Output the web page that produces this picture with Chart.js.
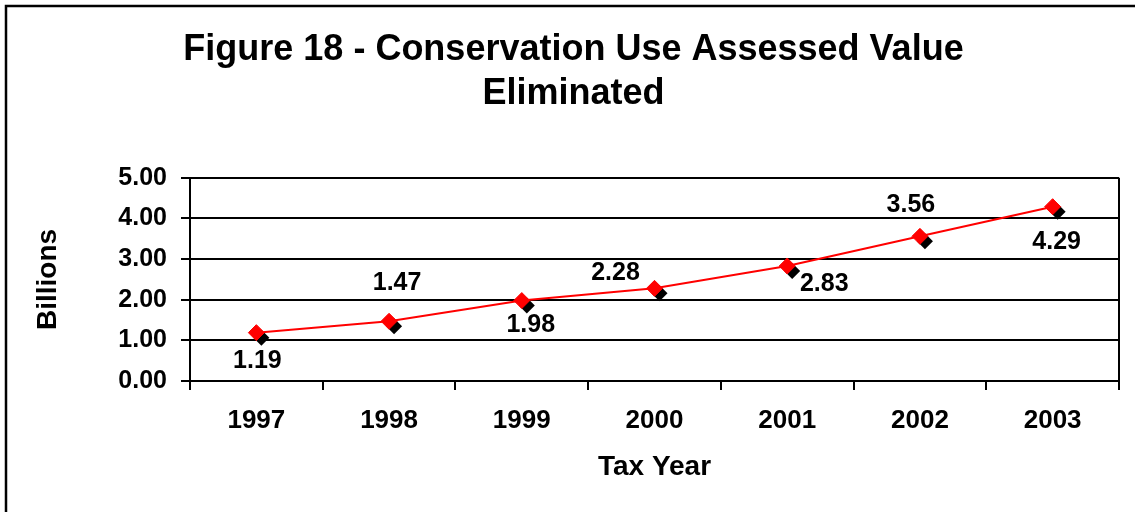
<!DOCTYPE html>
<html>
<head>
<meta charset="utf-8">
<script src="https://cdn.jsdelivr.net/npm/chart.js@4"></script>
<style>
  html, body { margin: 0; padding: 0; background: #fff; }
  #chart-wrap { width: 1135px; height: 512px; }
</style>
</head>
<body>
<div id="chart-wrap"><canvas id="value-chart" width="1135" height="512"></canvas></div>
<script>
const taxYears = ["1997", "1998", "1999", "2000", "2001", "2002", "2003"];
const billionsEliminated = [1.19, 1.47, 1.98, 2.28, 2.83, 3.56, 4.29];
const titleLines = ["Figure 18 - Conservation Use Assessed Value", "Eliminated"];

// where each value label sits relative to its marker (like the original)
const labelOffsets = [[1, 28], [8, -38], [9, 25], [-39, -15], [37, 18], [-9, -31], [4, 35]];

const fontFamily = "'Liberation Sans', Arial, sans-serif";

function diamond(ctx, x, y, r) {
  ctx.beginPath();
  ctx.moveTo(x, y - r);
  ctx.lineTo(x + r, y);
  ctx.lineTo(x, y + r);
  ctx.lineTo(x - r, y);
  ctx.closePath();
  ctx.fill();
}

// black drop shadow under the red diamonds
const markerShadow = {
  id: "markerShadow",
  beforeDatasetsDraw(chart) {
    const ctx = chart.ctx;
    ctx.save();
    ctx.fillStyle = "#000";
    chart.getDatasetMeta(0).data.forEach((pt) => diamond(ctx, pt.x + 5, pt.y + 5, 8));
    ctx.restore();
  },
};

const valueLabels = {
  id: "valueLabels",
  afterDatasetsDraw(chart) {
    const ctx = chart.ctx;
    ctx.save();
    ctx.fillStyle = "#000";
    ctx.font = "bold 25px " + fontFamily;
    ctx.textAlign = "center";
    ctx.textBaseline = "middle";
    chart.getDatasetMeta(0).data.forEach((pt, i) => {
      const off = labelOffsets[i];
      ctx.fillText(billionsEliminated[i].toFixed(2), pt.x + off[0], pt.y + off[1]);
    });
    ctx.restore();
  },
};

// plot area right edge and the outer frame
const frames = {
  id: "frames",
  afterDraw(chart) {
    const ctx = chart.ctx;
    const a = chart.chartArea;
    ctx.save();
    ctx.strokeStyle = "#000";
    ctx.lineWidth = 2;
    ctx.beginPath();
    ctx.moveTo(a.right, a.top);
    ctx.lineTo(a.right, a.bottom);
    ctx.stroke();
    ctx.lineWidth = 2.5;
    ctx.strokeRect(6, 6, 1300, 700);
    ctx.restore();
  },
};

new Chart(document.querySelector("#value-chart").getContext("2d"), {
  type: "line",
  data: {
    labels: taxYears,
    datasets: [
      {
        label: "Billions",
        data: billionsEliminated,
        borderColor: "#ff0000",
        borderWidth: 2,
        backgroundColor: "#ff0000",
        pointStyle: "rectRot",
        pointRadius: 8,
        pointHoverRadius: 8,
        pointBorderWidth: 1,
        pointBackgroundColor: "#ff0000",
        pointBorderColor: "#ff0000",
        tension: 0,
      },
    ],
  },
  options: {
    responsive: false,
    devicePixelRatio: 1,
    animation: false,
    events: [],
    layout: { padding: { left: 28, right: 16, top: 0, bottom: 0 } },
    plugins: {
      legend: { display: false },
      tooltip: { enabled: false },
      title: {
        display: true,
        text: titleLines,
        color: "#000",
        font: { family: fontFamily, size: 36, weight: "bold", lineHeight: 1.22 },
        padding: { top: 28, bottom: 62 },
      },
    },
    scales: {
      x: {
        offset: true,
        grid: { offset: true, drawOnChartArea: false, drawTicks: true, tickLength: 9, color: "#000", lineWidth: 2 },
        border: { display: true, color: "#000", width: 2 },
        ticks: { color: "#000", font: { family: fontFamily, size: 26, weight: "bold" }, padding: 15, maxRotation: 0 },
        title: {
          display: true,
          text: "Tax Year",
          color: "#000",
          font: { family: fontFamily, size: 28, weight: "bold" },
          padding: { top: 10, bottom: 28 },
        },
        afterFit(scale) { scale.height = 131; },
      },
      y: {
        min: 0,
        max: 5,
        grid: { color: "#000", lineWidth: 2, drawTicks: true, tickLength: 9 },
        border: { display: true, color: "#000", width: 2 },
        ticks: {
          stepSize: 1,
          color: "#000",
          padding: 14,
          font: { family: fontFamily, size: 25, weight: "bold" },
          callback: (v) => Number(v).toFixed(2),
        },
        title: {
          display: true,
          text: "Billions",
          color: "#000",
          font: { family: fontFamily, size: 28, weight: "bold" },
          padding: { top: 3, bottom: 0 },
        },
        afterFit(scale) { scale.width = 162; },
      },
    },
  },
  plugins: [markerShadow, valueLabels, frames],
});
</script>
</body>
</html>
